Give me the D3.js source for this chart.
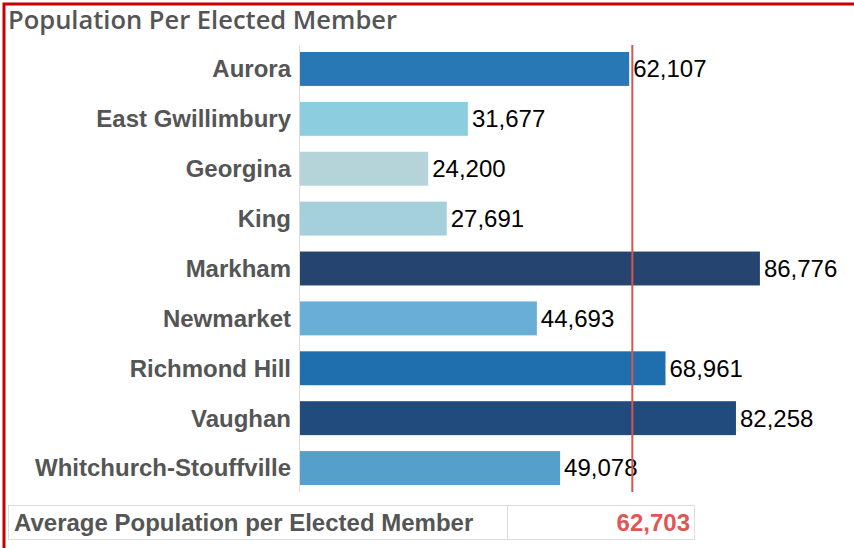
<!DOCTYPE html>
<html lang="en">
<head>
  <meta charset="UTF-8" />
  <title>Population Per Elected Member</title>
  <script src="https://d3js.org/d3.v7.min.js"></script>
  <style>
    html, body { margin: 0; padding: 0; background: #fff; }
    svg { display: block; }
  </style>
</head>
<body>
  <div id="chart"></div>
  <script>
    const municipalities = ["Aurora", "East Gwillimbury", "Georgina", "King", "Markham",
      "Newmarket", "Richmond Hill", "Vaughan", "Whitchurch-Stouffville"];
    const populationPerMember = [62107, 31677, 24200, 27691, 86776, 44693, 68961, 82258, 49078];
    const barColors = ["#2878b5", "#8ccde0", "#b5d4da", "#a4d0dc", "#254570",
      "#68aed6", "#1f6fae", "#214b7d", "#559fcb"];
    const averageLabel = "Average Population per Elected Member";
    const averageValue = 62703;

    const W = 854, H = 548;
    const svg = d3.select("#chart").append("svg")
      .attr("width", W).attr("height", H);

    // red frame (runs off the right and bottom of the shot)
    svg.append("rect")
      .attr("x", 4).attr("y", 4)
      .attr("width", 900).attr("height", 600)
      .attr("fill", "none").attr("stroke", "#c80000").attr("stroke-width", 3);

    svg.append("text")
      .attr("x", 8).attr("y", 29)
      .attr("font-family", "'Open Sans', sans-serif")
      .attr("font-size", 25)
      .attr("font-weight", 600)
      .attr("fill", "#555")
      .attr("textLength", 389)
      .attr("lengthAdjust", "spacingAndGlyphs")
      .text("Population Per Elected Member");

    const x = d3.scaleLinear().domain([0, 100000]).range([300, 830]);
    const y = d3.scaleBand().domain(municipalities).range([44, 493]).paddingInner(0.32).paddingOuter(0.16);

    // axis line
    svg.append("line")
      .attr("x1", 299.5).attr("x2", 299.5)
      .attr("y1", 45).attr("y2", 492)
      .attr("stroke", "#dcdcdc").attr("stroke-width", 1);

    const rows = svg.selectAll(".row")
      .data(municipalities.map((m, i) => ({ name: m, value: populationPerMember[i], color: barColors[i] })))
      .enter().append("g").attr("class", "row");

    rows.append("rect")
      .attr("x", x(0))
      .attr("y", d => y(d.name))
      .attr("width", d => x(d.value) - x(0))
      .attr("height", y.bandwidth())
      .attr("fill", d => d.color);

    rows.append("text")
      .attr("x", 291)
      .attr("y", d => y(d.name) + y.bandwidth() / 2)
      .attr("dy", "0.35em")
      .attr("text-anchor", "end")
      .attr("font-family", "'Liberation Sans', Arial, sans-serif")
      .attr("font-weight", "bold")
      .attr("font-size", 24)
      .attr("fill", "#555")
      .text(d => d.name);

    rows.append("text")
      .attr("x", d => x(d.value) + 4)
      .attr("y", d => y(d.name) + y.bandwidth() / 2)
      .attr("dy", "0.35em")
      .attr("font-family", "'Liberation Sans', Arial, sans-serif")
      .attr("font-size", 24)
      .attr("fill", "#000")
      .text(d => d3.format(",")(d.value));

    // average reference line
    svg.append("line")
      .attr("x1", x(averageValue)).attr("x2", x(averageValue))
      .attr("y1", 45).attr("y2", 492)
      .attr("stroke", "#d9534f").attr("stroke-width", 2);

    // summary table
    const tb = svg.append("g");
    tb.append("rect")
      .attr("x", 8.5).attr("y", 505.5)
      .attr("width", 686).attr("height", 34)
      .attr("fill", "none").attr("stroke", "#dcdcdc");
    tb.append("line")
      .attr("x1", 507.5).attr("x2", 507.5)
      .attr("y1", 505.5).attr("y2", 539.5)
      .attr("stroke", "#dcdcdc");
    tb.append("text")
      .attr("x", 14).attr("y", 522.5).attr("dy", "0.35em")
      .attr("font-family", "'Liberation Sans', Arial, sans-serif")
      .attr("font-weight", "bold").attr("font-size", 24)
      .attr("fill", "#555")
      .text(averageLabel);
    tb.append("text")
      .attr("x", 690).attr("y", 522.5).attr("dy", "0.35em")
      .attr("text-anchor", "end")
      .attr("font-family", "'Liberation Sans', Arial, sans-serif")
      .attr("font-weight", "bold").attr("font-size", 24)
      .attr("fill", "#e05555")
      .text(d3.format(",")(averageValue));
  </script>
</body>
</html>
